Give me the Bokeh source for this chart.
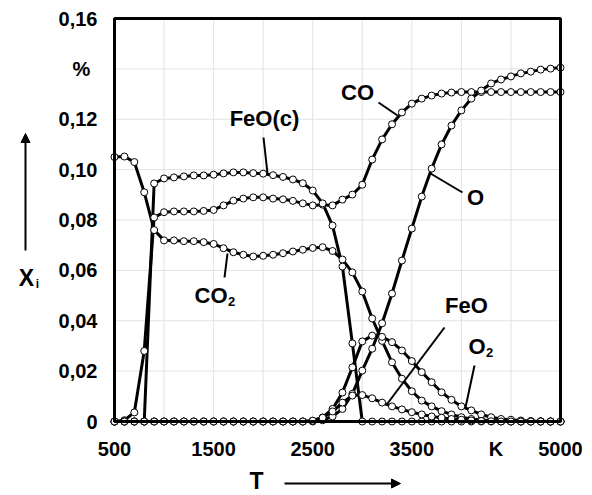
from bokeh.plotting import figure
from bokeh.models import FixedTicker, Label, Arrow, NormalHead, Range1d
from bokeh.embed import file_html
from bokeh.resources import INLINE

# ---------------- data (mole fractions vs temperature) ----------------
T = list(range(500, 5001, 100))

feo_c = [0, 0, 0, 0, 0.0945,
         0.0965, 0.0969, 0.0973, 0.0977, 0.0977,
         0.0980, 0.0985, 0.0989, 0.0989, 0.0986,
         0.0984, 0.0978, 0.0971, 0.0961, 0.0946,
         0.0917, 0.0866, 0.0778, 0.0615, 0.0310] + [0] * 21

co = [0, 0.0005, 0.0036, 0.028, 0.081,
      0.0831, 0.0834, 0.0834, 0.0834, 0.0836,
      0.0840, 0.0858, 0.0877, 0.0885, 0.0890,
      0.0890, 0.0885, 0.0882, 0.0876, 0.0866,
      0.0858, 0.0861, 0.0858, 0.0881, 0.0901,
      0.0940, 0.1040, 0.1120, 0.1180, 0.1227,
      0.1262, 0.1282, 0.1294, 0.1302, 0.1306] + [0.1308] * 11

co2 = [0.1050, 0.1052, 0.1030, 0.0910, 0.0760,
       0.0719, 0.0719, 0.0716, 0.0716, 0.0712,
       0.0705, 0.0688, 0.0672, 0.0662, 0.0655,
       0.0658, 0.0662, 0.0668, 0.0675, 0.0682,
       0.0689, 0.0692, 0.0677, 0.0643, 0.0592,
       0.0516, 0.0409, 0.0320, 0.0235, 0.0170,
       0.0120, 0.0083, 0.0060, 0.0041, 0.0028,
       0.0017, 0.0010, 0.0006, 0.0003, 0.0001] + [0] * 6

o = [0] * 21 + [0.0005, 0.0020, 0.0050, 0.0110,
                0.0202, 0.0289, 0.0390, 0.0508, 0.0639,
                0.0766, 0.0893, 0.1004, 0.1100, 0.1175,
                0.1235, 0.1282, 0.1314, 0.1342, 0.1358,
                0.1370, 0.1382, 0.1389, 0.1397, 0.1401,
                0.1405]

o2 = [0] * 20 + [0.0003, 0.0016, 0.0050, 0.0115, 0.0215,
                 0.0318, 0.0341, 0.0336, 0.0315, 0.0282,
                 0.0240, 0.0196, 0.0156, 0.0116, 0.0086,
                 0.0060, 0.0044, 0.0028, 0.0017, 0.0010,
                 0.0007, 0.0004, 0.0002, 0.0001, 0,
                 0]

feo = [0] * 20 + [0.0003, 0.0015, 0.0040, 0.0075, 0.0103,
                  0.0105, 0.0092, 0.0075, 0.0060, 0.0048,
                  0.0037, 0.0028, 0.0020, 0.0015, 0.0010,
                  0.0007, 0.0004, 0.0002, 0.0001, 0,
                  0, 0, 0, 0, 0,
                  0]

series = [co2, co, feo_c, o, o2, feo]

x_ticks = [500, 1500, 2500, 3500, 4350, 5000]
x_tick_labels = {500: "500", 1500: "1500", 2500: "2500", 3500: "3500", 4350: "K", 5000: "5000"}
y_ticks = [0, 0.02, 0.04, 0.06, 0.08, 0.10, 0.12, 0.14, 0.16]
y_tick_labels = {0: "0", 0.02: "0,02", 0.04: "0,04", 0.06: "0,06", 0.08: "0,08",
                 0.10: "0,10", 0.12: "0,12", 0.14: " ", 0.16: "0,16"}
x_grid = [1000, 1500, 2000, 2500, 3000, 3500, 4000, 4500]
y_grid = [0.02, 0.04, 0.06, 0.08, 0.10, 0.12, 0.14]
X0, X1, Y0, Y1 = 500, 5000, 0, 0.16

FONT = "Liberation Sans"
W, H = 590, 492


# picture pixel -> data coordinate (plot box spans px 114..560 and 18..421)
def dx(px):
    return X0 + (px - 114) * (X1 - X0) / 446


def dy(py):
    return Y0 + (421 - py) * (Y1 - Y0) / 403


# ---------------- figure: the frame covers the whole canvas ----------------
p = figure(width=W, height=H, output_backend="svg", toolbar_location=None,
           x_range=Range1d(dx(0), dx(W)), y_range=Range1d(dy(H), dy(0)),
           min_border_left=0, min_border_right=0, min_border_top=0, min_border_bottom=0)
p.background_fill_color = "white"
p.border_fill_color = "white"
p.outline_line_color = None
p.xgrid.visible = False
p.ygrid.visible = False

for ax, ticks, labels in ((p.xaxis[0], x_ticks, x_tick_labels), (p.yaxis[0], y_ticks, y_tick_labels)):
    ax.ticker = FixedTicker(ticks=ticks)
    ax.major_label_overrides = labels
    ax.axis_line_color = None
    ax.major_tick_line_color = None
    ax.minor_tick_line_color = None
    ax.major_tick_out = 0
    ax.major_tick_in = 0
    ax.major_label_text_font = FONT
    ax.major_label_text_font_style = "bold"
    ax.major_label_text_font_size = "20px"
    ax.major_label_text_color = "black"
p.xaxis.fixed_location = Y0
p.yaxis.fixed_location = X0
p.xaxis.major_label_standoff = 16
p.yaxis.major_label_standoff = 17

# light grid inside the box
p.segment(x0=x_grid, y0=[Y0] * len(x_grid), x1=x_grid, y1=[Y1] * len(x_grid),
          line_color="#e2e2e2", line_width=1)
p.segment(x0=[X0] * len(y_grid), y0=y_grid, x1=[X1] * len(y_grid), y1=y_grid,
          line_color="#e2e2e2", line_width=1)

for s in series:
    p.line(T, s, line_color="black", line_width=3)
for s in series:
    p.scatter(T, s, size=7, fill_color="white", line_color="black", line_width=1)

# plot box
p.quad(left=[X0], right=[X1], bottom=[Y0], top=[Y1], fill_color=None,
       line_color="black", line_width=3)


# ---------------- annotations ----------------
def lab(px, py, text, size="22px", align="center"):
    p.add_layout(Label(x=dx(px), y=dy(py), text=text, text_font=FONT, text_font_style="bold",
                       text_font_size=size, text_align=align, text_baseline="middle",
                       text_color="black"))


lab(264, 118, "FeO(c)")
lab(357, 92, "CO")
lab(475, 197, "O")
lab(194, 295, "CO", align="left")
lab(231, 301, "2", size="13px")
lab(466, 305, "FeO")
lab(468, 346, "O", align="left")
lab(489, 352, "2", size="13px")
lab(81, 68, "%", size="20px")
lab(26, 277, "X", size="23px")
lab(37, 283, "i", size="12px")
lab(256, 480, "T", size="23px")

leaders = [((263, 137), (267, 173)), ((378, 102), (397, 115)), ((430, 173), (462, 192)),
           ((227, 253), (224, 277)), ((444, 327), (387, 403)), ((474, 365), (465, 407))]
p.segment(x0=[dx(a[0]) for a, b in leaders], y0=[dy(a[1]) for a, b in leaders],
          x1=[dx(b[0]) for a, b in leaders], y1=[dy(b[1]) for a, b in leaders],
          line_color="black", line_width=2)

p.add_layout(Arrow(end=NormalHead(size=9, fill_color="black", line_color="black"),
                   x_start=dx(25), y_start=dy(250), x_end=dx(25), y_end=dy(133),
                   line_width=2, line_color="black"))
p.add_layout(Arrow(end=NormalHead(size=9, fill_color="black", line_color="black"),
                   x_start=dx(284), y_start=dy(483), x_end=dx(400), y_end=dy(483),
                   line_width=2, line_color="black"))

open("out.html", "w").write(file_html(p, INLINE))
